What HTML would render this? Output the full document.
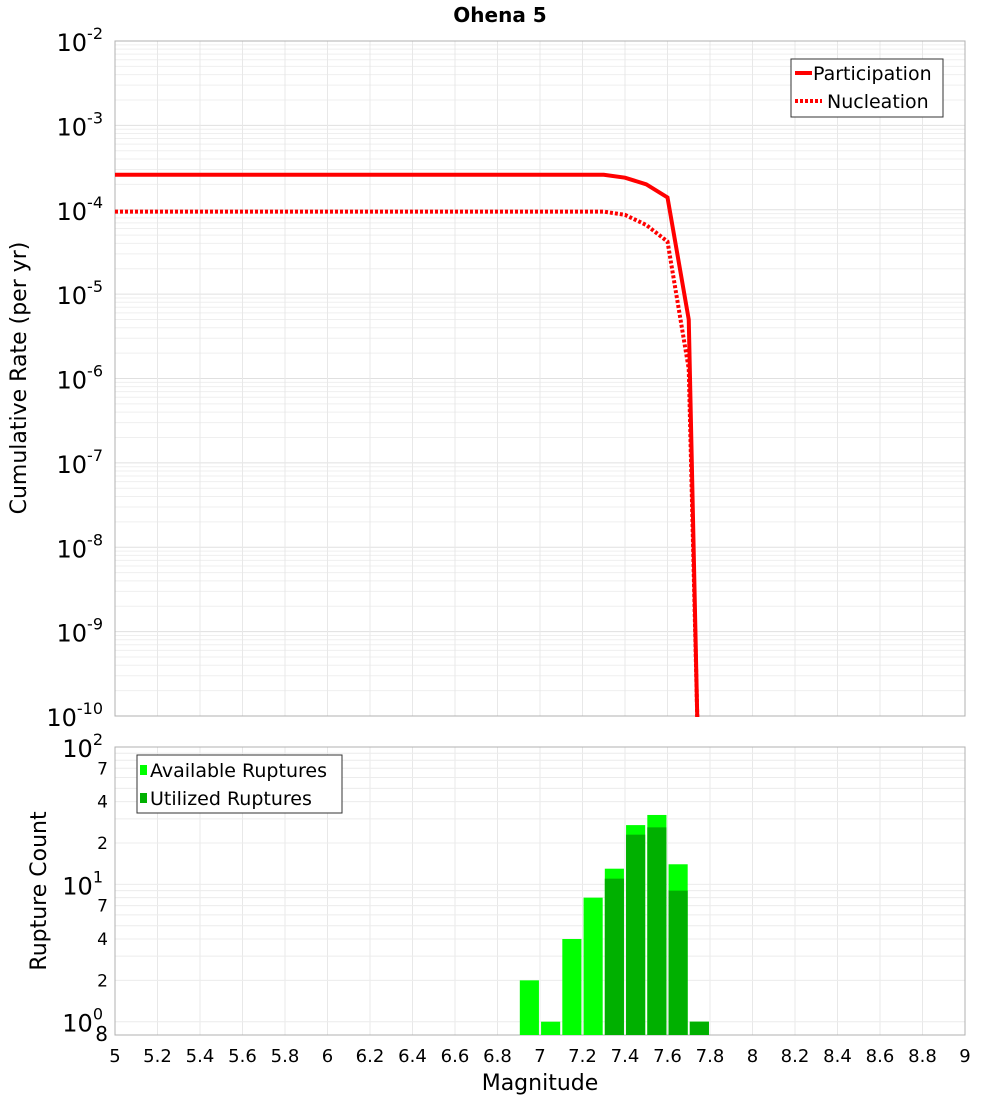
<!DOCTYPE html>
<html><head><meta charset="utf-8"><style>
body{margin:0;background:#fff;font-family:"DejaVu Sans","Liberation Sans",sans-serif}
svg text{font-family:"DejaVu Sans","Liberation Sans",sans-serif}
</style></head><body>
<svg id="c" width="1000" height="1100" xmlns="http://www.w3.org/2000/svg">
<text x="500" y="22" text-anchor="middle" font-size="20" font-weight="bold">Ohena 5</text>
<g id="topg"></g>
<g id="botg"></g>
<text transform="translate(26,378) rotate(-90)" text-anchor="middle" font-size="22">Cumulative Rate (per yr)</text>
<text transform="translate(46,891) rotate(-90)" text-anchor="middle" font-size="22">Rupture Count</text>
<text x="540" y="1090" text-anchor="middle" font-size="22">Magnitude</text>
</svg>
<script>
const partMags=[5.0,7.3,7.4,7.5,7.6,7.7,7.74];
const partRates=[2.6e-4,2.6e-4,2.4e-4,2.0e-4,1.4e-4,5e-6,1e-11];
const nuclMags=[5.0,7.3,7.4,7.5,7.6,7.7,7.74];
const nuclRates=[9.5e-5,9.5e-5,8.7e-5,6.6e-5,4.2e-5,1.3e-6,1e-11];
const binMags=[6.95,7.05,7.15,7.25,7.35,7.45,7.55,7.65,7.75];
const availCounts=[2,1,4,8,13,27,32,14,1];
const usedCounts=[0,0,0,0,11,23,26,9,1];
const xTicks=[5,5.2,5.4,5.6,5.8,6,6.2,6.4,6.6,6.8,7,7.2,7.4,7.6,7.8,8,8.2,8.4,8.6,8.8,9];
const topExps=[-10,-9,-8,-7,-6,-5,-4,-3,-2];

const NS="http://www.w3.org/2000/svg";
const L=115,R=965,T1=41,B1=716,T2=747,B2=1035;
const x=m=>L+(m-5)/4*(R-L);
const y1=v=>{const l=Math.log10(Math.max(v,1e-12));return T1+(-2-l)/8*(B1-T1);};
const y2=v=>B2-(Math.log10(v)-Math.log10(0.8))/(2-Math.log10(0.8))*(B2-T2);
function el(p,tag,a,txt){const e=document.createElementNS(NS,tag);for(const k in a)e.setAttribute(k,a[k]);if(txt!==undefined)e.textContent=txt;p.appendChild(e);return e;}
function supText(p,xx,yy,base,exp,name){const t=el(p,'text',{x:xx,y:yy,'text-anchor':'end','font-size':24});
 el(t,'tspan',{},base);el(t,'tspan',{dy:-12,'font-size':16},String(exp));return t;}
const topG=document.getElementById('topg'),botG=document.getElementById('botg');
for(let e=-10;e<-2;e++)for(let k=1;k<10;k++){const yy=y1(k*Math.pow(10,e));const g=el(topG,'line',{x1:L,x2:R,y1:yy,y2:yy,stroke:k==1?'#e0e0e0':'#efefef','stroke-width':1});}
xTicks.forEach(m=>{[topG,botG].forEach((p,i)=>{const g=el(p,'line',{x1:x(m),x2:x(m),y1:i?T2:T1,y2:i?B2:B1,stroke:'#e8e8e8'});});});
[1,2,3,4,5,6,7,8,9,10,20,30,40,50,60,70,80,90].forEach(v=>{const yy=y2(v);const g=el(botG,'line',{x1:L,x2:R,y1:yy,y2:yy,stroke:'#ececec'});});
const f1=el(topG,'rect',{x:L,y:T1,width:R-L,height:B1-T1,fill:'none',stroke:'#b0b0b0'});
const f2=el(botG,'rect',{x:L,y:T2,width:R-L,height:B2-T2,fill:'none',stroke:'#b0b0b0'});
topExps.forEach(e=>{supText(topG,103,y1(Math.pow(10,e))+10,'10',e,'y-tick-label');});
function line(ms,vs,dash,name){const d=ms.map((m,i)=>(i?'L':'M')+x(m)+','+Math.min(y1(vs[i]),B1+1)).join(' ');const p=el(topG,'path',{d:d,fill:'none',stroke:'#ff0000','stroke-width':4,'stroke-dasharray':dash||'none'});}
line(nuclMags,nuclRates,'3,2','nucleation-line');
line(partMags,partRates,null,'participation-line');
const lg=el(topG,'g',{});
el(lg,'rect',{x:791,y:59,width:152,height:58,fill:'#fff',stroke:'#333'});
el(lg,'line',{x1:795,x2:812,y1:73,y2:73,stroke:'#f00','stroke-width':4});
el(lg,'text',{x:813,y:80,'font-size':19},'Participation');
el(lg,'line',{x1:795,x2:822,y1:101,y2:101,stroke:'#f00','stroke-width':4,'stroke-dasharray':'3,2'});
el(lg,'text',{x:827,y:108,'font-size':19},'Nucleation');
const hw=0.045;
binMags.forEach((m,i)=>{const a=availCounts[i];if(a>0){const r=el(botG,'rect',{x:x(m-hw),y:y2(a),width:x(m+hw)-x(m-hw),height:B2-y2(a),fill:'#00ff00'});}
 const u=usedCounts[i];if(u>0){const r=el(botG,'rect',{x:x(m-hw),y:y2(u),width:x(m+hw)-x(m-hw),height:B2-y2(u),fill:'#00b000'});}});
[[100,2],[10,1],[1,0]].forEach(([v,e])=>{supText(botG,103,y2(v)+10,'10',e,'y-tick-label');});
[[70,'7'],[40,'4'],[20,'2'],[7,'7'],[4,'4'],[2,'2'],[0.8,'8']].forEach(([v,s])=>{const t=el(botG,'text',{x:108,y:y2(v)+6,'text-anchor':'end','font-size':v==0.8?20:17},s);});
xTicks.forEach(m=>{const t=el(botG,'text',{x:x(m),y:1062,'text-anchor':'middle','font-size':18},String(m));});
const lb=el(botG,'g',{});
el(lb,'rect',{x:137,y:755,width:205,height:58,fill:'#fff',stroke:'#333'});
el(lb,'rect',{x:140,y:765,width:7,height:10,fill:'#00ff00'});
el(lb,'text',{x:150,y:777,'font-size':19},'Available Ruptures');
el(lb,'rect',{x:140,y:793,width:7,height:10,fill:'#00b000'});
el(lb,'text',{x:150,y:805,'font-size':19},'Utilized Ruptures');
</script>
</body></html>
